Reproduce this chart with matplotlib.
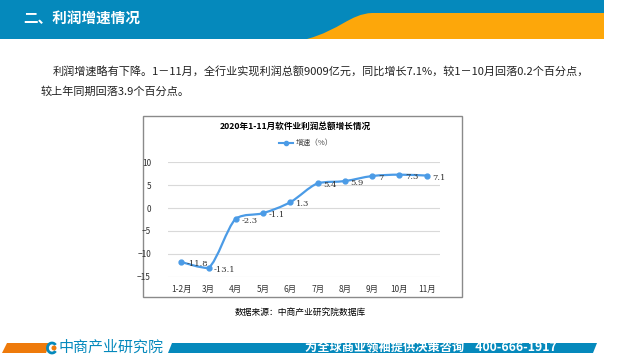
"""
2020年1-11月软件业利润总额增长情况 slide
"""

import numpy as np
import matplotlib
matplotlib.use("Agg")
import matplotlib.pyplot as plt
from matplotlib.path import Path
from matplotlib.patches import PathPatch, Polygon, Rectangle, Arc, Circle


months = ["1-2月", "3月", "4月", "5月", "6月", "7月", "8月", "9月", "10月", "11月"]
growth = [-11.8, -13.1, -2.3, -1.1, 1.3, 5.4, 5.9, 7, 7.3, 7.1]
growth_labels = ["-11.8", "-13.1", "-2.3", "-1.1", "1.3", "5.4", "5.9", "7", "7.3", "7.1"]
yticks = [10, 5, 0, -5, -10, -15]

headerTitle = "二、利润增速情况"
paraLine1 = "利润增速略有下降。1－11月，全行业实现利润总额9009亿元，同比增长7.1%，较1－10月回落0.2个百分点，"
paraLine2 = "较上年同期回落3.9个百分点。"
chartTitle = "2020年1-11月软件业利润总额增长情况"
legendName = "增速（%）"
sourceText = "数据来源：中商产业研究院数据库"
footerText = "为全球商业领袖提供决策咨询    400-666-1917"
logoText = "中商产业研究院"

BLUE = "#0589BC"
ORANGE = "#FDA70A"
LINE = "#4B9BE6"

plt.rcParams['font.family'] = ['Noto Sans CJK SC', 'DejaVu Sans']

fig = plt.figure(figsize=(6.4, 3.6), dpi=100)

# background axes in pixel coords (y grows downward)
bg = fig.add_axes([0, 0, 1, 1])
bg.set_xlim(0, 640)
bg.set_ylim(360, 0)
bg.axis('off')

# header band
bg.add_patch(Rectangle((0, 0), 604, 39, color=BLUE, lw=0))
hv = [(307, 39), (340, 30), (350, 14), (372, 13), (604, 13), (604, 39), (307, 39)]
hc = [Path.MOVETO, Path.CURVE4, Path.CURVE4, Path.CURVE4, Path.LINETO, Path.LINETO, Path.CLOSEPOLY]
bg.add_patch(PathPatch(Path(hv, hc), facecolor=ORANGE, lw=0))
bg.text(23, 19, headerTitle, color="white", fontsize=10.5, fontweight='bold', va='center', ha='left')

# paragraph
bg.text(53, 72, paraLine1, fontsize=8, va='center', ha='left', color="#222222")
bg.text(41, 92, paraLine2, fontsize=8, va='center', ha='left', color="#222222")

# chart frame
bg.add_patch(Rectangle((143, 116), 319, 181, fill=False, edgecolor="#8a8a8a", lw=1))
bg.text(295, 126, chartTitle, fontsize=6.2, fontweight='bold', ha='center', va='center', color="black")
bg.plot([279, 293], [143, 143], color=LINE, lw=1.5)
bg.plot([286], [143], 'o', color=LINE, ms=3)
bg.text(296, 143, legendName, fontsize=5.5, ha='left', va='center', color="#444444")
bg.text(300, 312, sourceText, fontsize=6.3, ha='center', va='center', color="black")

# footer
bg.add_patch(Polygon([(7, 343), (50, 343), (46, 353), (2, 353)], color="#EE7A0B", lw=0))
bg.add_patch(Polygon([(172, 343), (597, 343), (593, 353), (168, 353)], color=BLUE, lw=0))
bg.add_patch(Arc((52, 348), 9, 10, theta1=40, theta2=320, color=BLUE, lw=2))
bg.add_patch(Circle((54, 348), 1.8, color="#EE7A0B"))
bg.text(59, 348, logoText, fontsize=10.8, color=BLUE, ha='left', va='center')
bg.text(557, 347.5, footerText, fontsize=8.8, fontweight='bold', color="white", ha='right', va='center')

# chart axes
ax = fig.add_axes([167.6 / 640, (360 - 276.7) / 360, 272.8 / 640, 114.4 / 360])
ax.set_xlim(-0.5, len(months) - 0.5)
ax.set_ylim(-15, 10)
ax.set_yticks(yticks)
ax.set_xticks(range(len(months)))
ax.set_xticklabels(months)
ax.tick_params(length=0, labelsize=6, colors="#333333", pad=6)
ax.tick_params(axis='y', pad=12)
for sp in ax.spines.values():
    sp.set_visible(False)
ax.patch.set_visible(False)
ax.grid(axis='y', color="#d9d9d9", lw=0.8)
ax.set_axisbelow(True)

# smooth line (Bezier through the points)
x = np.arange(len(growth), dtype=float)
y = np.array(growth, dtype=float)
verts = [(x[0], y[0])]
codes = [Path.MOVETO]
n = len(x)
for i in range(n - 1):
    x0, y0 = (x[i - 1], y[i - 1]) if i > 0 else (x[i], y[i])
    x3, y3 = (x[i + 2], y[i + 2]) if i + 2 < n else (x[i + 1], y[i + 1])
    c1 = (x[i] + (x[i + 1] - x0) / 6, y[i] + (y[i + 1] - y0) / 6)
    c2 = (x[i + 1] - (x3 - x[i]) / 6, y[i + 1] - (y3 - y[i]) / 6)
    # keep the curve from overshooting between neighbouring points
    lo, hi = min(y[i], y[i + 1]), max(y[i], y[i + 1])
    c1 = (c1[0], min(max(c1[1], lo), hi))
    c2 = (c2[0], min(max(c2[1], lo), hi))
    verts += [c1, c2, (x[i + 1], y[i + 1])]
    codes += [Path.CURVE4] * 3
ax.add_patch(PathPatch(Path(verts, codes), fill=False, edgecolor=LINE, lw=1.6))
ax.plot(x, y, 'o', color=LINE, ms=3.5)

for xi, yi, lab in zip(x, y, growth_labels):
    ax.annotate(lab, (xi, yi), xytext=(4, -1.5), textcoords='offset points',
                fontsize=6, ha='left', va='center', color="#333333", family=['DejaVu Serif'])

fig.savefig("out.png", dpi=100)
